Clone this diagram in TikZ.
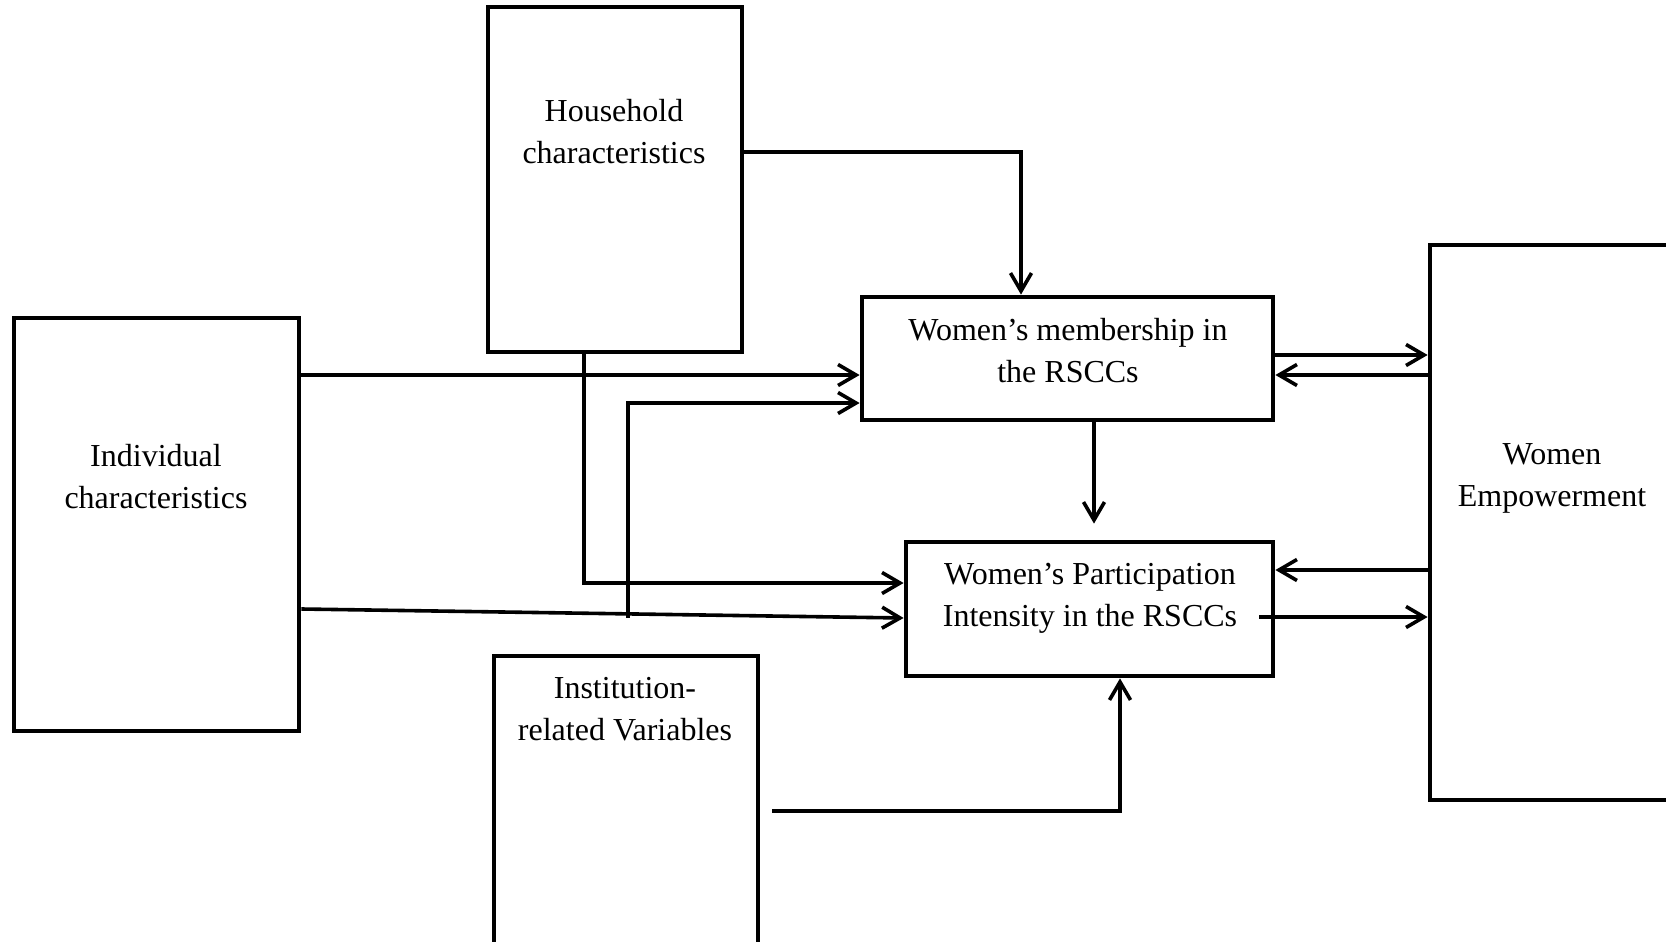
\documentclass[tikz,border=0pt]{standalone}
\usepackage{fontspec}
\setmainfont{Liberation Serif}
\usetikzlibrary{arrows.meta}

\begin{document}
\begin{tikzpicture}[x=0.5pt,y=-0.5pt,
  box/.style={draw,line width=2.4pt,inner sep=0pt},
  txt/.style={align=center,font=\fontsize{16pt}{21pt}\selectfont},
  arr/.style={-{Straight Barb[length=9pt,width=10.5pt]},line width=1.8pt}
]
\useasboundingbox (0,0) rectangle (1666,942);
\clip (0,0) rectangle (1666,942);
\node[box,minimum width=142.5pt,minimum height=206.5pt] (indiv) at (156.5,524.5) {};
\node[box,minimum width=127pt,minimum height=172.5pt] (hh) at (615,179.5) {};
\node[box,minimum width=132pt,minimum height=162pt] (inst) at (626,818) {};
\node[box,minimum width=205.5pt,minimum height=61.5pt] (memb) at (1067.5,358.5) {};
\node[box,minimum width=183.5pt,minimum height=67pt] (part) at (1089.5,609) {};
\node[box,minimum width=145pt,minimum height=277.5pt] (emp) at (1575,522.5) {};
\node[txt] (indivtxt) at (156,477) {Individual\\characteristics};
\node[txt] (hhtxt) at (614,132) {Household\\characteristics};
\node[txt] (insttxt) at (625,709) {Institution-\\related Variables};
\node[txt] (membtxt) at (1068,351) {Women’s membership in\\the RSCCs};
\node[txt] (parttxt) at (1090,598) {Women’s Participation\\Intensity in the RSCCs};
\node[txt] (emptxt) at (1552,478) {Women\\Empowerment};
\draw[arr] (hh.east |- 0,152) -| (memb.north -| 1021,0);
\draw[arr] (indiv.east |- 0,375) -- (memb.west |- 0,375);
\draw[arr] (indiv.east |- 0,609) -- (part.west |- 0,618);
\draw[arr] (hh.south -| 584,0) |- (part.west |- 0,583);
\draw[arr,shorten <=18pt] (inst.north -| 628,0) |- (memb.west |- 0,403);
\draw[arr,shorten >=8pt] (memb.south -| 1094,0) -- (part.north -| 1094,0);
\draw[arr] (memb.east |- 0,355) -- (emp.west |- 0,355);
\draw[arr] (emp.west |- 0,375) -- (memb.east |- 0,375);
\draw[arr] (emp.west |- 0,570) -- (part.east |- 0,570);
\draw[arr,shorten <=-8pt] (part.east |- 0,617) -- (emp.west |- 0,617);
\draw[arr,shorten <=6pt] (inst.east |- 0,811) -| (part.south -| 1120,0);
\end{tikzpicture}
\end{document}
